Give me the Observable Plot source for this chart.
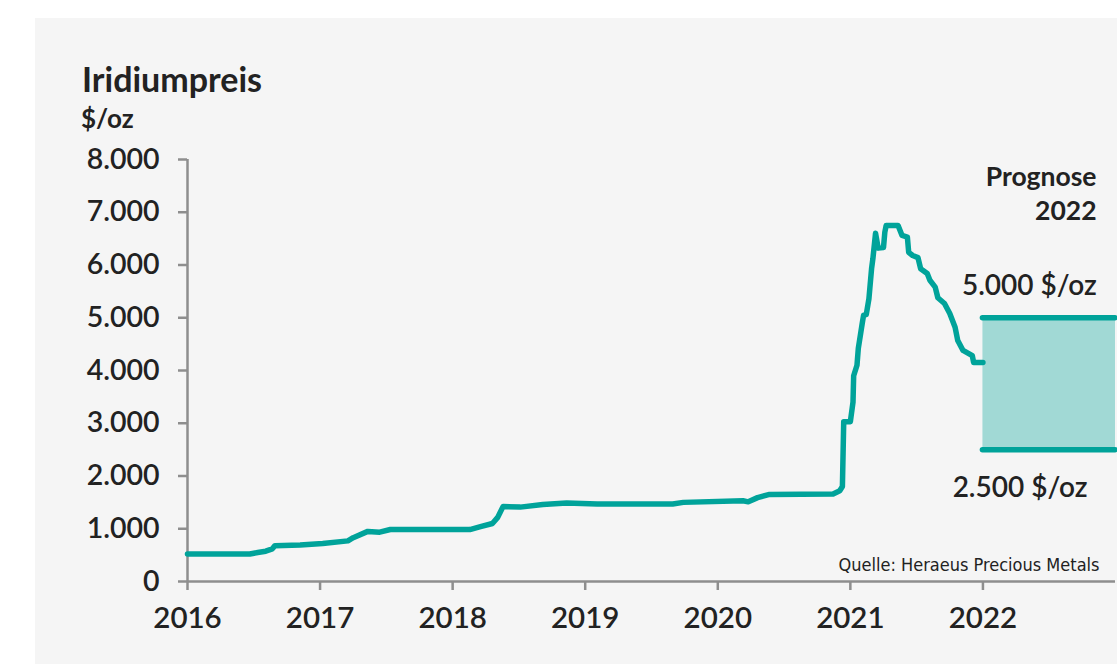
<!DOCTYPE html>
<html>
<head>
<meta charset="utf-8">
<script src="https://cdn.jsdelivr.net/npm/d3@7"></script>
<script src="https://cdn.jsdelivr.net/npm/@observablehq/plot@0.6"></script>
<style>
  html, body { margin: 0; padding: 0; background: #ffffff; }
  body { width: 1117px; height: 664px; position: relative; overflow: hidden; font-family: Lato, "Open Sans", sans-serif; }
  #panel { position: absolute; left: 35px; top: 18px; width: 1082px; height: 646px; background: #f5f5f5; }
  .title { position: absolute; left: 82px; top: 62px; font-size: 34px; line-height: 34px; font-weight: 700; color: #222; white-space: nowrap; }
  .unit { position: absolute; left: 81px; top: 105px; font-size: 26px; line-height: 26px; font-weight: 700; color: #222; white-space: nowrap; }
  #chart { position: absolute; left: 35px; top: 140px; }
</style>
</head>
<body>
<div id="panel"></div>
<div class="title">Iridiumpreis</div>
<div class="unit">$/oz</div>
<div id="chart"></div>
<script>
// --- data ---
const years = [2016.00, 2016.47, 2016.53, 2016.59, 2016.64, 2016.66, 2016.85, 2017.02, 2017.21, 2017.25,
  2017.36, 2017.45, 2017.53, 2018.13, 2018.21, 2018.30, 2018.34, 2018.38, 2018.51, 2018.68,
  2018.86, 2019.09, 2019.66, 2019.74, 2020.19, 2020.23, 2020.30, 2020.39, 2020.87, 2020.92,
  2020.94, 2020.95, 2021.00, 2021.02, 2021.025, 2021.05, 2021.06, 2021.09, 2021.10, 2021.12,
  2021.14, 2021.16, 2021.17, 2021.19, 2021.21, 2021.25, 2021.26, 2021.27, 2021.36, 2021.39,
  2021.43, 2021.44, 2021.47, 2021.51, 2021.53, 2021.58, 2021.60, 2021.64, 2021.66, 2021.71,
  2021.75, 2021.79, 2021.81, 2021.85, 2021.92, 2021.93, 2022.00];
const prices = [520, 520, 550, 575, 620, 680, 690, 720, 770, 830,
  950, 935, 985, 985, 1040, 1100, 1215, 1420, 1410, 1460,
  1490, 1470, 1470, 1500, 1530, 1510, 1590, 1650, 1660, 1720,
  1800, 3030, 3030, 3400, 3900, 4100, 4420, 4900, 5050, 5060,
  5360, 5930, 6120, 6600, 6320, 6330, 6620, 6750, 6750, 6560,
  6530, 6240, 6180, 6140, 5930, 5840, 5710, 5580, 5380, 5270,
  5080, 4820, 4570, 4380, 4280, 4150, 4150];
const forecastYear = [2022, 2023];
const forecastLow = 2500;
const forecastHigh = 5000;
const xTicks = [2016, 2017, 2018, 2019, 2020, 2021, 2022];
const yTicks = [0, 1000, 2000, 3000, 4000, 5000, 6000, 7000, 8000];
const labelTitle = "Prognose\n2022";
const labelHigh = "5.000 $/oz";
const labelLow = "2.500 $/oz";
const source = "Quelle: Heraeus Precious Metals";

const series = years.map((y, i) => ({year: y, price: prices[i]}));
const de = d3.formatLocale({decimal: ",", thousands: ".", grouping: [3], currency: ["", " $"]});
const fmt = de.format(",");

const teal = "#00a39a";
const fillTeal = "#a1d9d5";
const axisGray = "#8e8e8e";
const ink = "#222222";

const plot = Plot.plot({
  width: 1082,
  height: 524,
  marginLeft: 152,
  marginRight: 2,
  marginTop: 19,
  marginBottom: 83,
  style: {background: "transparent", fontFamily: "Lato, 'Open Sans', sans-serif", color: ink, overflow: "visible"},
  x: {domain: [2016, 2023], type: "linear"},
  y: {domain: [0, 8000]},
  marks: [
    Plot.rect([{x1: forecastYear[0], x2: forecastYear[1], y1: forecastLow, y2: forecastHigh}],
      {x1: "x1", x2: "x2", y1: "y1", y2: "y2", fill: fillTeal}),
    Plot.ruleX([2016], {y1: 0, y2: 8000, stroke: axisGray, strokeWidth: 2.5}),
    Plot.ruleY([0], {x1: 2016, x2: 2023, stroke: axisGray, strokeWidth: 2.5}),
    Plot.axisY({ticks: yTicks, tickFormat: fmt, tickSize: 9, tickPadding: 19, stroke: axisGray, strokeWidth: 2.5,
      fontSize: 28.5, fontWeight: 600, fill: ink, label: null}),
    Plot.axisX({ticks: xTicks, tickFormat: d => String(d), tickSize: 9, tickPadding: 17, stroke: axisGray, strokeWidth: 2.5,
      fontSize: 29.5, fontWeight: 600, fill: ink, label: null}),
    Plot.ruleY([forecastLow, forecastHigh], {x1: forecastYear[0], x2: forecastYear[1], stroke: teal, strokeWidth: 5.5, strokeLinecap: "round"}),
    Plot.line(series, {x: "year", y: "price", stroke: teal, strokeWidth: 5.5, strokeLinejoin: "round", strokeLinecap: "round"}),
    Plot.text([labelTitle], {frameAnchor: "top-right", dx: -19, dy: 2, text: d => d, textAnchor: "end", fontSize: 26.5, fontWeight: 700, fill: ink, lineHeight: 1.3}),
    Plot.text([labelHigh], {x: 2022.35, y: 5610, text: d => d, fontSize: 28, fontWeight: 600, fill: ink}),
    Plot.text([labelLow], {x: 2022.28, y: 1780, text: d => d, fontSize: 28, fontWeight: 600, fill: ink}),
    Plot.text([source], {x: 2023, y: 0, dx: -16, dy: -16, text: d => d, textAnchor: "end", fontSize: 18,
      fontFamily: "'Liberation Sans Narrow', 'DejaVu Sans Condensed', sans-serif", fill: ink})
  ]
});
document.getElementById("chart").appendChild(plot);
</script>
</body>
</html>
